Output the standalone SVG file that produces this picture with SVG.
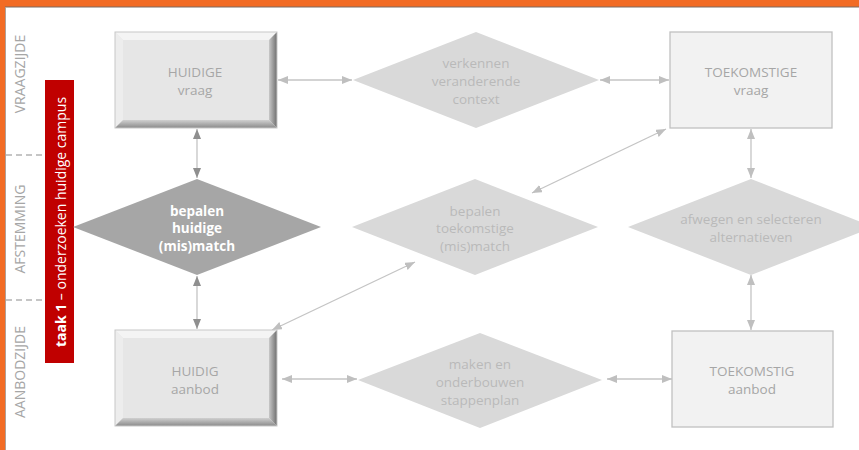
<svg xmlns="http://www.w3.org/2000/svg" width="859" height="450" viewBox="0 0 859 450">
<defs>
<style>
text{font-family:"Open Sans","Noto Sans","Liberation Sans",sans-serif;}
.lbl{font-size:13.5px;fill:#a6a6a6;text-anchor:middle;}
.lane{font-size:14px;fill:#a6a6a6;text-anchor:middle;}
.lt{font-size:13.5px;fill:#b9b9b9;text-anchor:middle;}
.dk{font-size:13.5px;fill:#ffffff;font-weight:bold;text-anchor:middle;}
.con{stroke:#c4c4c4;stroke-width:1.3;fill:none;}
.dash{stroke:#8c8c8c;stroke-width:1.2;stroke-dasharray:6 4;}
.ld{fill:#d9d9d9;}
.fb{fill:#f2f2f2;stroke:#c0c0c0;stroke-width:1.3;}
</style>
<marker id="ah" viewBox="0 0 10 8" refX="10" refY="4" markerWidth="10" markerHeight="8" markerUnits="userSpaceOnUse" orient="auto-start-reverse"><path d="M0,0 L10,4 L0,8 Z" fill="#bfbfbf"/></marker>
<marker id="ad" viewBox="0 0 10 8" refX="10" refY="4" markerWidth="10" markerHeight="8" markerUnits="userSpaceOnUse" orient="auto-start-reverse"><path d="M0,0 L10,4 L0,8 Z" fill="#8f8f8f"/></marker>
<linearGradient id="gr" x1="0" y1="0" x2="1" y2="0"><stop offset="0" stop-color="#c8c8c8"/><stop offset="1" stop-color="#6e6e6e"/></linearGradient>
<linearGradient id="gb" x1="0" y1="0" x2="0" y2="1"><stop offset="0" stop-color="#d0d0d0"/><stop offset="1" stop-color="#8a8a8a"/></linearGradient>
<g id="bevel">
<rect x="0" y="0" width="162" height="96" fill="#e6e6e6"/>
<polygon points="0,0 162,0 154,8 8,8" fill="#f4f4f4"/>
<polygon points="0,0 8,8 8,88 0,96" fill="#ededed"/>
<polygon points="162,0 162,96 154,88 154,8" fill="url(#gr)"/>
<polygon points="0,96 162,96 154,88 8,88" fill="url(#gb)"/>
<rect x="0" y="0" width="162" height="96" fill="none" stroke="#c8c8c8" stroke-width="1"/>
</g>
</defs>
<rect x="0" y="0" width="859" height="450" fill="#ffffff"/>
<rect x="0" y="0" width="859" height="7" fill="#f26b24"/>
<line x1="0" y1="7" x2="859" y2="7" stroke="#7a6a60" stroke-width="1"/>
<rect x="0" y="0" width="5" height="450" fill="#f26b24"/>
<line x1="5.5" y1="7" x2="5.5" y2="450" stroke="#b0a098" stroke-width="1"/>

<g id="lanes">
<line class="dash" x1="6" y1="155" x2="45" y2="155"/>
<line class="dash" x1="6" y1="300" x2="45" y2="300"/>
<text class="lane" transform="translate(25,74) rotate(-90)">VRAAGZIJDE</text>
<text class="lane" transform="translate(25,229) rotate(-90)">AFSTEMMING</text>
<text class="lane" transform="translate(25,372) rotate(-90)">AANBODZIJDE</text>
</g>

<g id="taak">
<rect x="45" y="80" width="29" height="283" fill="#c00000"/>
<text transform="translate(60,222) rotate(-90)" text-anchor="middle" dominant-baseline="central" style="font-size:14px;fill:#ffffff"><tspan font-weight="bold">taak 1</tspan> – onderzoeken huidige campus</text>
</g>

<g id="connectors">
<line class="con" x1="197" y1="129" x2="197" y2="178" marker-start="url(#ad)" marker-end="url(#ad)"/>
<line class="con" x1="197" y1="276" x2="197" y2="329" marker-start="url(#ad)" marker-end="url(#ad)"/>
<line class="con" x1="278" y1="80" x2="352" y2="80" marker-start="url(#ah)" marker-end="url(#ah)"/>
<line class="con" x1="600" y1="80" x2="669" y2="80" marker-start="url(#ah)" marker-end="url(#ah)"/>
<line class="con" x1="532" y1="193" x2="666" y2="129" marker-start="url(#ah)" marker-end="url(#ah)"/>
<line class="con" x1="272" y1="330" x2="415" y2="262" marker-start="url(#ah)" marker-end="url(#ah)"/>
<line class="con" x1="751" y1="129" x2="751" y2="178" marker-start="url(#ah)" marker-end="url(#ah)"/>
<line class="con" x1="751" y1="275" x2="751" y2="330" marker-start="url(#ah)" marker-end="url(#ah)"/>
<line class="con" x1="282" y1="379" x2="357" y2="379" marker-start="url(#ah)" marker-end="url(#ah)"/>
<line class="con" x1="607" y1="379" x2="672" y2="379" marker-start="url(#ah)" marker-end="url(#ah)"/>
</g>

<g id="huidige-vraag">
<use href="#bevel" x="115" y="32"/>
<text class="lbl" x="195" y="77">HUIDIGE</text>
<text class="lbl" x="195" y="95">vraag</text>
</g>

<g id="verkennen">
<polygon class="ld" points="476,32 599,80 476,128 353,80"/>
<text class="lt" x="476" y="68">verkennen</text>
<text class="lt" x="476" y="86">veranderende</text>
<text class="lt" x="476" y="104">context</text>
</g>

<g id="toekomstige-vraag">
<rect class="fb" x="670" y="32" width="162" height="96"/>
<text class="lbl" x="751" y="77">TOEKOMSTIGE</text>
<text class="lbl" x="751" y="95">vraag</text>
</g>

<g id="bepalen-huidige">
<polygon fill="#a6a6a6" points="197,179 321,227 197,275 73,227"/>
<text class="dk" x="197" y="216">bepalen</text>
<text class="dk" x="197" y="233">huidige</text>
<text class="dk" x="197" y="251">(mis)match</text>
</g>

<g id="bepalen-toekomstige">
<polygon class="ld" points="475,179 598,227 475,275 352,227"/>
<text class="lt" x="475" y="216">bepalen</text>
<text class="lt" x="475" y="233">toekomstige</text>
<text class="lt" x="475" y="251">(mis)match</text>
</g>

<g id="afwegen">
<polygon class="ld" points="751,179 874,227 751,275 628,227"/>
<text class="lt" x="751" y="224">afwegen en selecteren</text>
<text class="lt" x="751" y="242">alternatieven</text>
</g>

<g id="huidig-aanbod">
<use href="#bevel" x="115" y="330"/>
<text class="lbl" x="195" y="376">HUIDIG</text>
<text class="lbl" x="195" y="394">aanbod</text>
</g>

<g id="maken">
<polygon class="ld" points="480,333 602,380 480,428 358,380"/>
<text class="lt" x="480" y="369">maken en</text>
<text class="lt" x="480" y="387">onderbouwen</text>
<text class="lt" x="480" y="405">stappenplan</text>
</g>

<g id="toekomstig-aanbod">
<rect class="fb" x="672" y="331" width="161" height="96"/>
<text class="lbl" x="752" y="376">TOEKOMSTIG</text>
<text class="lbl" x="752" y="394">aanbod</text>
</g>
</svg>
